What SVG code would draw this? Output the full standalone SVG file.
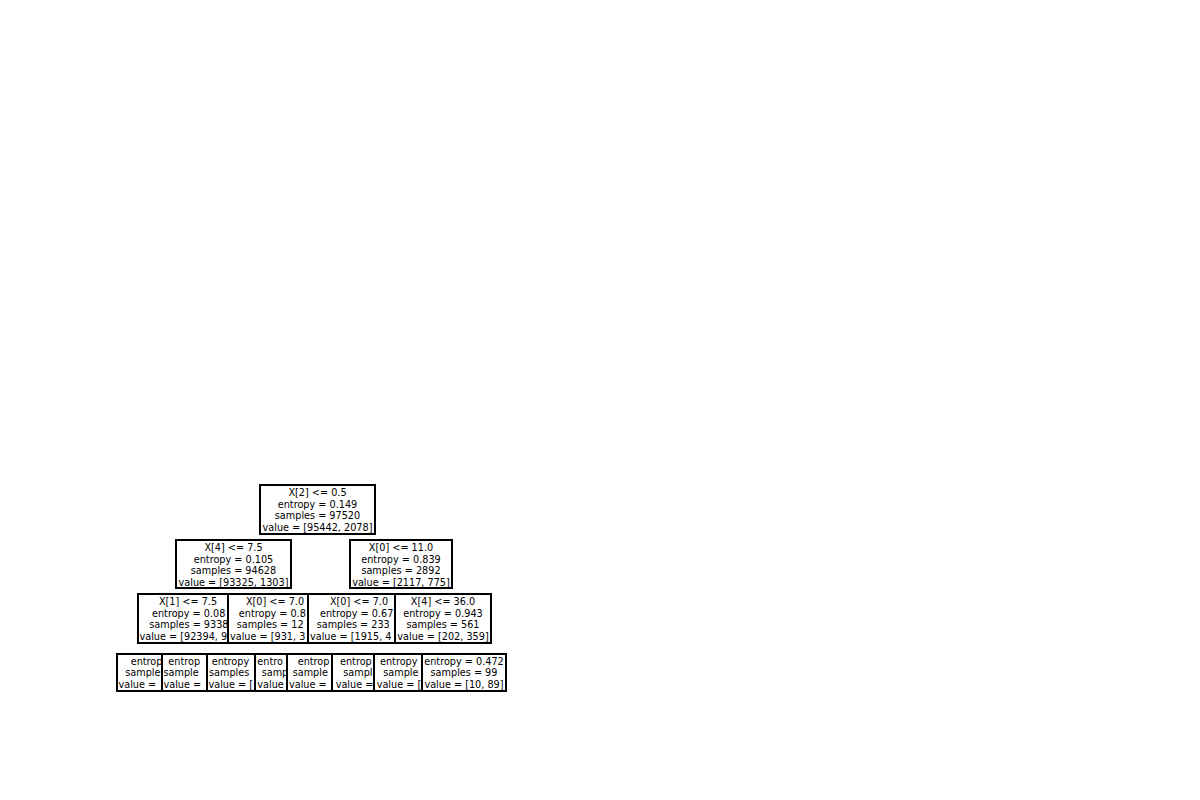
<svg xmlns="http://www.w3.org/2000/svg" width="1200" height="800" viewBox="0 0 1200 800">
<style>
rect.n{fill:#fff;stroke:#000;stroke-width:2}
text{font-family:"DejaVu Sans","Liberation Sans",sans-serif;font-size:9.7px;fill:#000}
.c{text-anchor:middle}
</style>
<rect x="0" y="0" width="1200" height="800" fill="#fff"/>
<g id="connectors"></g>
<g id="nodes">
<g id="n0">
<rect class="n" x="260" y="485" width="115" height="49"/>
<text class="c" x="317.5" y="496">X[2] &lt;= 0.5</text>
<text class="c" x="317.5" y="507.5">entropy = 0.149</text>
<text class="c" x="317.5" y="519">samples = 97520</text>
<text class="c" x="317.5" y="530.5">value = [95442, 2078]</text>
</g>
<g id="n1">
<rect class="n" x="176" y="540" width="115" height="48"/>
<text class="c" x="233.5" y="551">X[4] &lt;= 7.5</text>
<text class="c" x="233.5" y="562.5">entropy = 0.105</text>
<text class="c" x="233.5" y="574">samples = 94628</text>
<text class="c" x="233.5" y="585.5">value = [93325, 1303]</text>
</g>
<g id="n8">
<rect class="n" x="350" y="540" width="102" height="48"/>
<text class="c" x="401" y="551">X[0] &lt;= 11.0</text>
<text class="c" x="401" y="562.5">entropy = 0.839</text>
<text class="c" x="401" y="574">samples = 2892</text>
<text class="c" x="401" y="585.5">value = [2117, 775]</text>
</g>
<g id="n2">
<rect class="n" x="138" y="594" width="100" height="49"/>
<text class="c" x="188" y="605">X[1] &lt;= 7.5</text>
<text x="152" y="616.5">entropy = 0.08</text>
<text x="149.3" y="628">samples = 9338</text>
<text x="139.5" y="639.5">value = [92394, 9</text>
</g>
<g id="n5">
<rect class="n" x="228" y="594" width="94" height="49"/>
<text class="c" x="275" y="605">X[0] &lt;= 7.0</text>
<text x="238.8" y="616.5">entropy = 0.8</text>
<text x="236.7" y="628">samples = 12</text>
<text x="230" y="639.5">value = [931, 3</text>
</g>
<g id="n9">
<rect class="n" x="308" y="594" width="102" height="49"/>
<text class="c" x="359" y="605">X[0] &lt;= 7.0</text>
<text x="320" y="616.5">entropy = 0.67</text>
<text x="316.7" y="628">samples = 233</text>
<text x="310" y="639.5">value = [1915, 4</text>
</g>
<g id="n12">
<rect class="n" x="395" y="594" width="96" height="49"/>
<text class="c" x="443" y="605">X[4] &lt;= 36.0</text>
<text class="c" x="443" y="616.5">entropy = 0.943</text>
<text class="c" x="443" y="628">samples = 561</text>
<text class="c" x="443" y="639.5">value = [202, 359]</text>
</g>
<g id="n3">
<rect class="n" x="117" y="654" width="54" height="37"/>
<text x="130.7" y="664.5">entrop</text>
<text x="125.3" y="676.1">sample</text>
<text x="118.5" y="687.7">value =</text>
</g>
<g id="n4">
<rect class="n" x="162" y="654" width="54" height="37"/>
<text x="168.3" y="664.5">entrop</text>
<text x="163.5" y="676.1">sample</text>
<text x="163.5" y="687.7">value =</text>
</g>
<g id="n6">
<rect class="n" x="207" y="654" width="57" height="37"/>
<text x="211.7" y="664.5">entropy</text>
<text x="209" y="676.1">samples</text>
<text x="208.5" y="687.7">value = [</text>
</g>
<g id="n7">
<rect class="n" x="255" y="654" width="41" height="37"/>
<text x="257.3" y="664.5">entro</text>
<text x="261.7" y="676.1">samp</text>
<text x="257.3" y="687.7">value</text>
</g>
<g id="n10">
<rect class="n" x="287" y="654" width="54" height="37"/>
<text x="297.7" y="664.5">entrop</text>
<text x="292.7" y="676.1">sample</text>
<text x="289" y="687.7">value =</text>
</g>
<g id="n11">
<rect class="n" x="332" y="654" width="51" height="37"/>
<text x="340" y="664.5">entrop</text>
<text x="343.3" y="676.1">sampl</text>
<text x="335.7" y="687.7">value =</text>
</g>
<g id="n13">
<rect class="n" x="374" y="654" width="57" height="37"/>
<text x="380" y="664.5">entropy</text>
<text x="383.3" y="676.1">sample</text>
<text x="376.7" y="687.7">value = [</text>
</g>
<g id="n14">
<rect class="n" x="422" y="654" width="84" height="37"/>
<text class="c" x="464" y="664.5">entropy = 0.472</text>
<text class="c" x="464" y="676.1">samples = 99</text>
<text class="c" x="464" y="687.7">value = [10, 89]</text>
</g>
</g>
</svg>
